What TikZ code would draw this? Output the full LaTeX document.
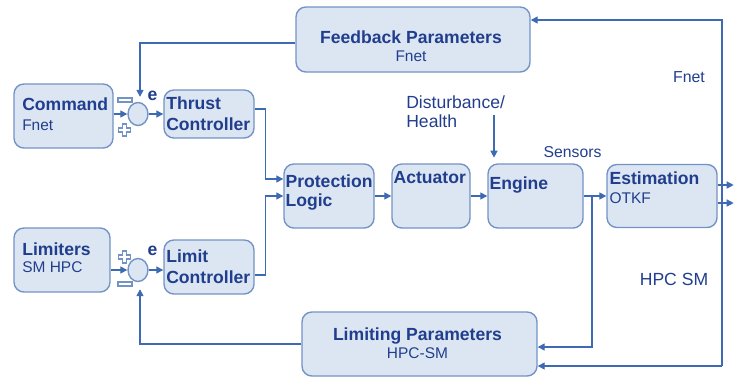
\documentclass[tikz,border=0pt]{standalone}
\usepackage{fontspec}
\setmainfont{Liberation Sans}
\usetikzlibrary{arrows.meta,calc,shapes.geometric}
\definecolor{boxfill}{HTML}{DCE6F2}
\definecolor{boxline}{HTML}{7393C6}
\definecolor{wire}{HTML}{3D6AB3}
\definecolor{ink}{HTML}{213E8E}
\def\px{0.025cm}
\newcommand{\hd}[1]{{\fontsize{12.5}{14}\selectfont\bfseries #1}}
\newcommand{\subtxt}[1]{{\fontsize{11}{13}\selectfont #1}}
\def\minusmark(#1,#2){\draw[sign] (#1-7,#2-2) rectangle (#1+7,#2+2);}
\def\plusmark(#1,#2){\draw[sign] (#1-6,#2-2) -- (#1-2,#2-2) -- (#1-2,#2-6) -- (#1+2,#2-6) -- (#1+2,#2-2) -- (#1+6,#2-2) -- (#1+6,#2+2) -- (#1+2,#2+2) -- (#1+2,#2+6) -- (#1-2,#2+6) -- (#1-2,#2+2) -- (#1-6,#2+2) -- cycle;}
\tikzset{
	box/.style={draw=boxline, fill=boxfill, line width=1pt, rounded corners=7pt},
	txt/.style={anchor=west, inner sep=0pt, align=left, text=ink, font=\fontsize{12.5}{#1}\selectfont},
	txt/.default=14pt,
	ctxt/.style={anchor=center, inner sep=0pt, align=center, text=ink, font=\fontsize{12.5}{#1}\selectfont},
	ctxt/.default=13pt,
	sum/.style={ellipse, draw=boxline, fill=boxfill, line width=1pt, minimum width=20*\px, minimum height=23*\px, inner sep=0pt},
	conn/.style={draw=wire, line width=1pt, -{Triangle[length=5pt,width=5pt]}},
	sign/.style={draw=boxline, fill=white, line width=0.8pt},
	lbl/.style={inner sep=0pt, text=ink, font=\fontsize{12.5}{13.5}\selectfont}
}

\begin{document}
\begin{tikzpicture}[x=0.025cm, y=-0.025cm]
			%%%%% START %%%%%
			\useasboundingbox (0,0) rectangle (736,377);
			
			\node[box, minimum width=99*\px, minimum height=64*\px, label={[txt=14.2pt, shift={(8.7,-1.5)}]west:\hd{Command}\\\subtxt{Fnet}}] (cmd) at (63.5,116) {};
			\node[box, minimum width=96*\px, minimum height=64*\px, label={[txt=11.9pt, shift={(8.7,-2.5)}]west:\hd{Limiters}\\\subtxt{SM HPC}}] (lmt) at (62,260) {};
			\node[box, minimum width=90*\px, minimum height=48*\px, label={[txt=15pt, shift={(2.7,0)}]west:\hd{Thrust}\\\hd{Controller}}] (thr) at (209,114) {};
			\node[box, minimum width=90*\px, minimum height=54*\px, label={[txt=15pt, shift={(2.7,-0.5)}]west:\hd{Limit}\\\hd{Controller}}] (lc) at (209,267) {};
			
			\node[sum] (sum1) at (138,114) {};
			\node[sum] (sum2) at (138,270) {};
			\minusmark(125,100)
			\plusmark(124.5,130)
			\plusmark(124.5,257)
			\minusmark(125,284)
			\node[lbl, font=\fontsize{12.5}{13}\selectfont\bfseries] (e1) at (152.5,95.5) {e};
			\node[lbl, font=\fontsize{12.5}{13}\selectfont\bfseries] (e2) at (152.5,251) {e};
			
			\node[box, minimum width=234*\px, minimum height=65*\px, label={[ctxt=12.8pt, shift={(-2,6.5)}]center:\hd{Feedback Parameters}\\\subtxt{Fnet}}] (fb) at (413,39.5) {};
			\node[box, minimum width=235*\px, minimum height=64*\px, label={[ctxt=12.8pt, shift={(-2,-1)}]center:\hd{Limiting Parameters}\\\subtxt{HPC-SM}}] (lp) at (419.5,344) {};
			
			\node[box, minimum width=90*\px, minimum height=64*\px, label={[txt=14.2pt, shift={(2,-3.5)}]west:\hd{Protection}\\\hd{Logic}}] (pl) at (329,196) {};
			\node[box, minimum width=78*\px, minimum height=64*\px, label={[txt, shift={(2,-18.5)}]west:\hd{Actuator}}] (act) at (431,196) {};
			\node[box, minimum width=95*\px, minimum height=64*\px, label={[txt, shift={(2,-11)}]west:\hd{Engine}}] (eng) at (535.5,196) {};
			\node[box, minimum width=110*\px, minimum height=63*\px, label={[txt=13.5pt, shift={(3,-8)}]west:\hd{Estimation}\\\subtxt{OTKF}}] (est) at (662,196) {};
			
			\node[lbl, align=left, anchor=west] (dist) at (406,112) {Disturbance/\\Health};
			\node[lbl, font=\fontsize{11.2}{13}\selectfont] (sens) at (572.5,152) {Sensors};
			\node[lbl, font=\fontsize{11.3}{13}\selectfont] (fnet) at (689,77.5) {Fnet};
			\node[lbl] (hpcsm) at (674,279) {HPC SM};
			
			\draw[conn] (cmd.east |- sum1) -- (sum1);
			\draw[conn] (sum1) -- (sum1 -| thr.west);
			\draw[conn] ([shift={(0,3.5)}]fb.west) -| ([shift={(2,-5)}]sum1.north);
			
			\draw[conn] (lmt.east |- sum2) -- (sum2);
			\draw[conn] (sum2) -- (sum2 -| lc.west);
			\draw[conn] (lp.west) -| ([shift={(2,7)}]sum2.south);
			
			\draw[conn] ([shift={(0,-5)}]thr.east) -- ++(11,0) |- ([shift={(0,-17)}]pl.west);
			\draw[conn] ([shift={(0,8)}]lc.east) -- ++(11,0) |- (pl.west);
			\draw[conn] (pl) -- (act);
			\draw[conn] (act) -- (eng);
			\draw[conn] (eng) -- (est);
			
			\coordinate (dist-in) at (494,115);
			\draw[conn, shorten >=4pt] (dist-in) -- (dist-in |- eng.north);
			
			\coordinate (tap) at ($(eng.east)!0.375!(est.west)$);
			\draw[conn] (tap) |- ([shift={(0,3)}]lp.east);
			
			\draw[conn] ([shift={(0,-11)}]est.east) -- ++(16,0);
			\draw[conn] ([shift={(0,7)}]est.east) -- ++(16,0);
			
			\coordinate (rail) at (722,366);
			\draw[conn] (rail) |- ([shift={(0,-19.5)}]fb.east);
			\draw[conn] (rail) -- (rail -| lp.east);
			
			%%%%% END %%%%%
\end{tikzpicture}
\end{document}
